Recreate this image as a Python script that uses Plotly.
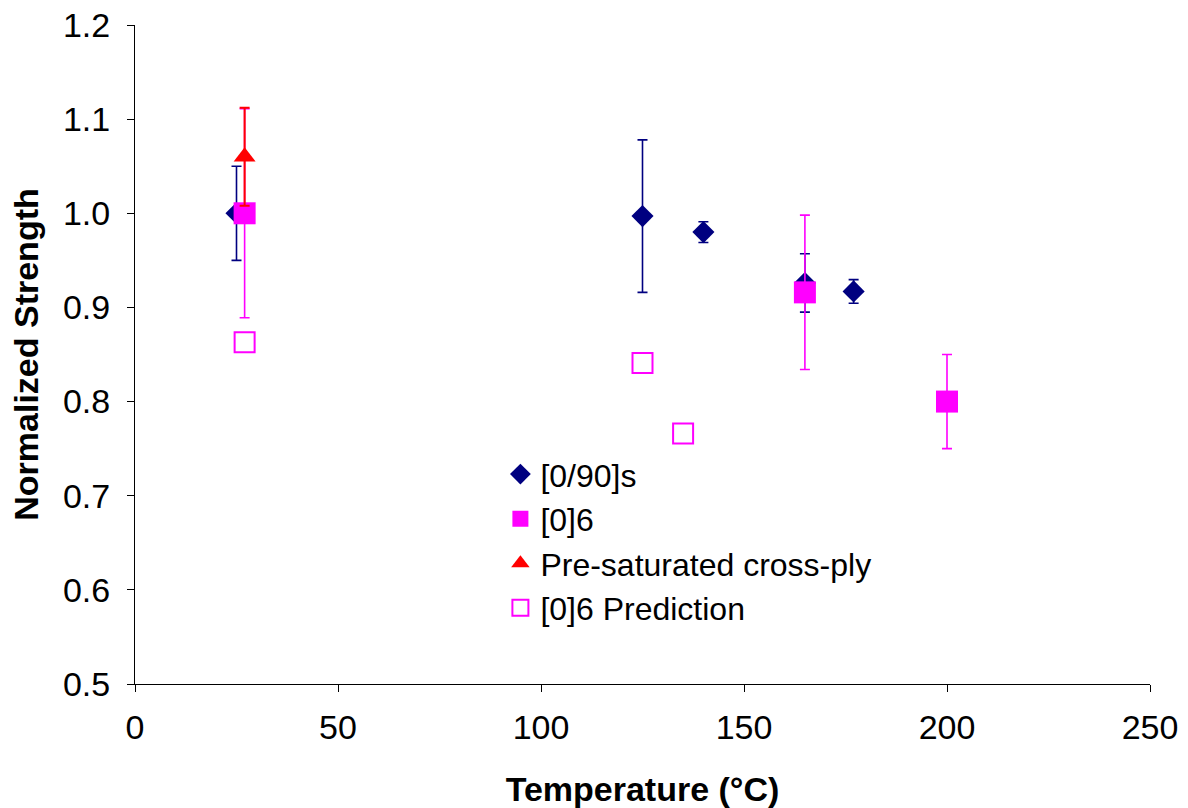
import plotly.graph_objects as go

# Normalized strength vs. temperature
crossply_temp = [25, 125, 140, 165, 177]
crossply_strength = [1.00, 0.997, 0.980, 0.926, 0.917]
crossply_err = [0.05, 0.081, 0.011, 0.031, 0.0125]

uni_temp = [27, 165, 200]
uni_strength = [1.00, 0.916, 0.800]
uni_err = [0.111, 0.082, 0.050]

presat_temp = [27]
presat_strength = [1.06]
presat_err = [0.052]

pred_temp = [27, 125, 135]
pred_strength = [0.863, 0.841, 0.766]

NAVY = "#000080"
MAGENTA = "#FF00FF"
RED = "#FF0000"

fig = go.Figure()

fig.add_trace(go.Scatter(
    x=crossply_temp, y=crossply_strength, mode="markers", name="[0/90]s",
    marker=dict(symbol="diamond", size=17, color=NAVY, line=dict(width=0)),
    error_y=dict(type="data", array=crossply_err, color=NAVY, thickness=1.6, width=5),
))
fig.add_trace(go.Scatter(
    x=uni_temp, y=uni_strength, mode="markers", name="[0]6",
    marker=dict(symbol="square", size=22, color=MAGENTA, line=dict(width=0)),
    error_y=dict(type="data", array=uni_err, color=MAGENTA, thickness=1.6, width=5),
))
fig.add_trace(go.Scatter(
    x=presat_temp, y=presat_strength, mode="markers", name="Pre-saturated cross-ply",
    marker=dict(symbol="triangle-up", size=19, color=RED, line=dict(width=0)),
    error_y=dict(type="data", array=presat_err, color=RED, thickness=2, width=5),
))
fig.add_trace(go.Scatter(
    x=pred_temp, y=pred_strength, mode="markers", name="[0]6 Prediction",
    marker=dict(symbol="square-open", size=20, color=MAGENTA, line=dict(width=2)),
))

FAMILY = "Arial, Liberation Sans, sans-serif"
tick_font = dict(family=FAMILY, size=34, color="black")
title_font = dict(family=FAMILY, size=34, color="black")

fig.update_layout(
    width=1188, height=808,
    margin=dict(l=135, r=38, t=25, b=124),
    paper_bgcolor="white", plot_bgcolor="white",
    font=dict(family=FAMILY, color="black"),
    showlegend=True,
    legend=dict(
        x=0.36, y=0.36, xanchor="left", yanchor="top",
        bgcolor="rgba(0,0,0,0)", font=dict(family=FAMILY, size=32, color="black"),
        itemsizing="trace", tracegroupgap=0,
    ),
    xaxis=dict(
        range=[0, 250], tickmode="array", tickvals=[0, 50, 100, 150, 200, 250],
        showgrid=False, zeroline=False, showline=True, linecolor="black", linewidth=1,
        ticks="outside", ticklen=7, tickcolor="black", tickfont=tick_font,
        ticklabelstandoff=6, automargin=False,
        title=dict(text="<b>Temperature (°C)</b>", font=title_font, standoff=32),
    ),
    yaxis=dict(
        range=[0.5, 1.2], tickmode="array",
        tickvals=[0.5, 0.6, 0.7, 0.8, 0.9, 1.0, 1.1, 1.2], tickformat=".1f",
        showgrid=False, zeroline=False, showline=True, linecolor="black", linewidth=1,
        ticks="outside", ticklen=7, tickcolor="black", tickfont=tick_font,
        ticklabelstandoff=10, automargin=False,
        title=dict(text="<b>Normalized Strength</b>", font=title_font, standoff=14),
    ),
)

fig.write_html("out.html")
